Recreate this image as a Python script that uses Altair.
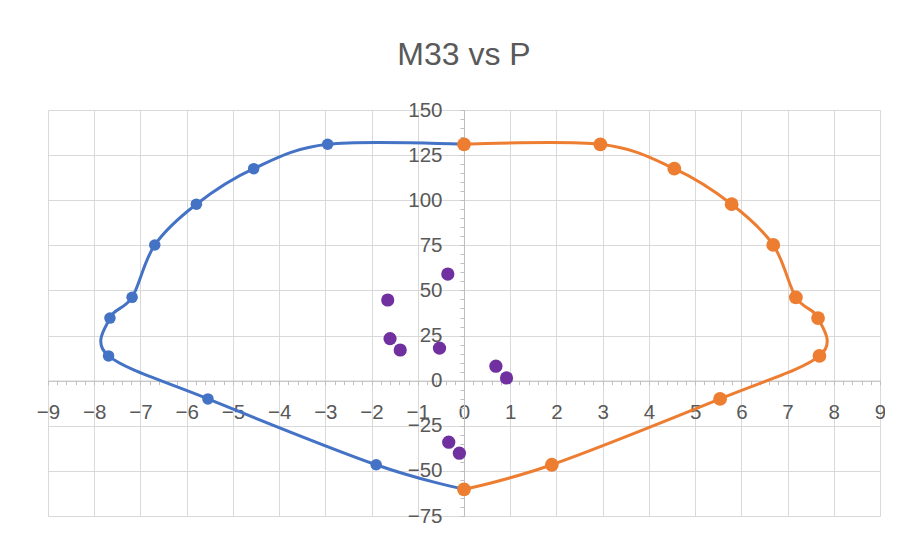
import altair as alt
import pandas as pd

# ---- data ----
blue_x = [0, -2.95, -4.55, -5.79, -6.69, -7.18, -7.66, -7.69, -5.54, -1.90, 0]
blue_y = [131, 131, 117.5, 97.8, 75.2, 46.2, 34.7, 13.7, -10.1, -46.6, -60.2]
orange_x = [0, 2.95, 4.55, 5.79, 6.69, 7.18, 7.66, 7.69, 5.54, 1.90, 0]
orange_y = [131, 131, 117.5, 97.8, 75.2, 46.2, 34.7, 13.7, -10.1, -46.6, -60.2]
purple_x = [-1.65, -0.35, -1.60, -1.38, -0.53, -0.33, -0.10, 0.69, 0.92]
purple_y = [44.7, 59.1, 23.3, 17.0, 18.0, -34.1, -40.2, 8.0, 1.5]

x_ticks = list(range(-9, 10))
y_ticks = list(range(-75, 151, 25))
x_minor = [round(-9 + 0.2 * i, 1) for i in range(91)]
y_minor = list(range(-75, 151, 5))

chart_title = "M33 vs P"

blue = pd.DataFrame({"x": blue_x, "y": blue_y, "i": range(len(blue_x))})
orange = pd.DataFrame({"x": orange_x, "y": orange_y, "i": range(len(orange_x))})
purple = pd.DataFrame({"x": purple_x, "y": purple_y})

W, H = 832, 406
x_dom = [-9, 9]
y_dom = [-75, 150]
x_off = -H * (0 - y_dom[0]) / (y_dom[1] - y_dom[0])   # move x axis to y = 0
y_off = -W * (0 - x_dom[0]) / (x_dom[1] - x_dom[0])   # move y axis to x = 0

xs = alt.Scale(domain=x_dom, nice=False, zero=False)
ys = alt.Scale(domain=y_dom, nice=False, zero=False)

FONT = "Liberation Sans"
LBL = "#595959"
GRID = "#d9d9d9"
AX = "#bfbfbf"

x_grid = alt.Axis(values=x_ticks, grid=True, gridColor=GRID, gridWidth=1, labels=False,
                  ticks=False, tickSize=0, domain=False, title=None, orient="bottom")
y_grid = alt.Axis(values=y_ticks, grid=True, gridColor=GRID, gridWidth=1, labels=False,
                  ticks=False, tickSize=0, domain=False, title=None, orient="left")

x_lab = alt.Axis(values=x_ticks, grid=False, labels=True, labelFont=FONT, labelFontSize=20.5,
                 labelColor=LBL, labelPadding=22, labelFlush=False, labelOverlap=False,
                 ticks=False, tickSize=0, domain=True, domainColor=AX, domainWidth=1,
                 offset=x_off, orient="bottom", title=None)
y_lab = alt.Axis(values=y_ticks, grid=False, labels=True, labelFont=FONT, labelFontSize=20.5,
                 labelColor=LBL, labelPadding=22, labelFlush=False, labelOverlap=False,
                 ticks=False, tickSize=0, domain=True, domainColor=AX, domainWidth=1,
                 offset=y_off, orient="left", title=None)

x_min = alt.Axis(values=x_minor, grid=False, labels=False, ticks=True, tickSize=4,
                 tickColor=AX, tickWidth=1, domain=False, offset=x_off, orient="bottom", title=None)
y_min = alt.Axis(values=y_minor, grid=False, labels=False, ticks=True, tickSize=4,
                 tickColor=AX, tickWidth=1, domain=False, offset=y_off, orient="left", title=None)

BLUE = "#4472C4"
ORANGE = "#ED7D31"
PURPLE = "#7030A0"

blue_line = alt.Chart(blue).mark_line(interpolate="cardinal", strokeWidth=3, color=BLUE).encode(
    x=alt.X("x:Q", scale=xs, axis=x_grid),
    y=alt.Y("y:Q", scale=ys, axis=y_grid),
    order="i:Q",
)
blue_pts = alt.Chart(blue).mark_circle(size=133, opacity=1, color=BLUE).encode(
    x=alt.X("x:Q", scale=xs, axis=x_lab),
    y=alt.Y("y:Q", scale=ys, axis=y_lab),
)
orange_line = alt.Chart(orange).mark_line(interpolate="cardinal", strokeWidth=3, color=ORANGE).encode(
    x=alt.X("x:Q", scale=xs, axis=x_min),
    y=alt.Y("y:Q", scale=ys, axis=y_min),
    order="i:Q",
)
orange_pts = alt.Chart(orange).mark_circle(size=190, opacity=1, color=ORANGE).encode(
    x=alt.X("x:Q", scale=xs, axis=None),
    y=alt.Y("y:Q", scale=ys, axis=None),
)
purple_pts = alt.Chart(purple).mark_circle(size=175, opacity=1, color=PURPLE).encode(
    x=alt.X("x:Q", scale=xs, axis=None),
    y=alt.Y("y:Q", scale=ys, axis=None),
)

chart = alt.layer(blue_line, blue_pts, orange_line, orange_pts, purple_pts).resolve_axis(
    x="independent", y="independent"
).properties(
    width=W,
    height=H,
    title=alt.TitleParams(chart_title, fontSize=32, font=FONT, color=LBL, fontWeight="normal",
                          anchor="middle", frame="group", offset=3, baseline="alphabetic"),
    autosize=alt.AutoSizeParams(type="none"),
    padding={"left": 40, "top": 102, "right": 5, "bottom": 14},
    background="white",
).configure_view(stroke=None)

chart.save("out.html", embed_options={"renderer": "svg", "actions": False})
